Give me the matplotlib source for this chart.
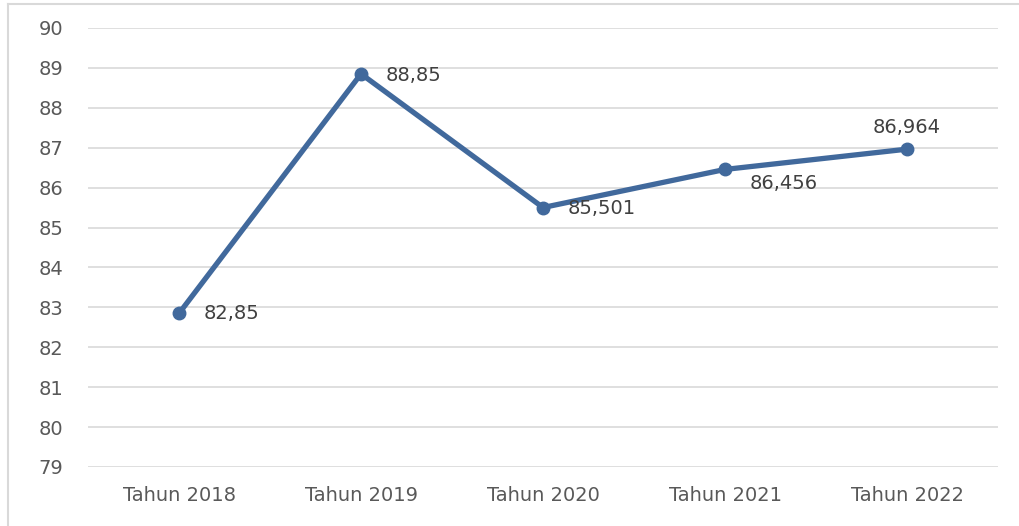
import matplotlib.pyplot as plt
from matplotlib.lines import Line2D

# data
categories = ['Tahun 2018', 'Tahun 2019', 'Tahun 2020', 'Tahun 2021', 'Tahun 2022']
values = [82.85, 88.85, 85.501, 86.456, 86.964]
value_labels = ['82,85', '88,85', '85,501', '86,456', '86,964']
y_ticks = list(range(79, 91))

plt.rcParams['font.family'] = ['DejaVu Sans']
text_color = '#595959'
line_color = '#41699c'

fig = plt.figure(figsize=(10.19, 5.26), dpi=100)
ax = fig.add_axes([0.0864, 0.1122, 0.8930, 0.8346])

x = list(range(len(categories)))
ax.plot(x, values, color=line_color, linewidth=3.8, marker='o', markersize=9,
        solid_capstyle='round', zorder=3)

# data labels: offsets in points, similar to the Excel placement
offsets = [(18, 0, 'left', 'center'),
           (18, -1, 'left', 'center'),
           (18, -1, 'left', 'center'),
           (18, -10, 'left', 'center'),
           (0, 9, 'center', 'bottom')]
for xi, yi, lab, (dx, dy, ha, va) in zip(x, values, value_labels, offsets):
    ax.annotate(lab, (xi, yi), xytext=(dx, dy), textcoords='offset points',
                ha=ha, va=va, fontsize=14, color='#404040')

ax.set_xlim(-0.5, len(categories) - 0.5)
ax.set_ylim(79, 90)
ax.set_yticks(y_ticks)
ax.set_xticks(x)
ax.set_xticklabels(categories)
ax.grid(axis='y', color='#d9d9d9', linewidth=1.2)
ax.set_axisbelow(True)
for s in ax.spines.values():
    s.set_visible(False)
ax.tick_params(axis='y', length=0, pad=18, labelsize=14, labelcolor=text_color)
ax.tick_params(axis='x', length=0, pad=14, labelsize=14, labelcolor=text_color)

# chart frame (only left and top edges visible in the crop)
fig.add_artist(Line2D([0.008, 0.008], [0, 0.992], color='#d9d9d9', linewidth=1.5))
fig.add_artist(Line2D([0.008, 1.0], [0.992, 0.992], color='#d9d9d9', linewidth=1.5))

fig.savefig('out.png', dpi=100)
